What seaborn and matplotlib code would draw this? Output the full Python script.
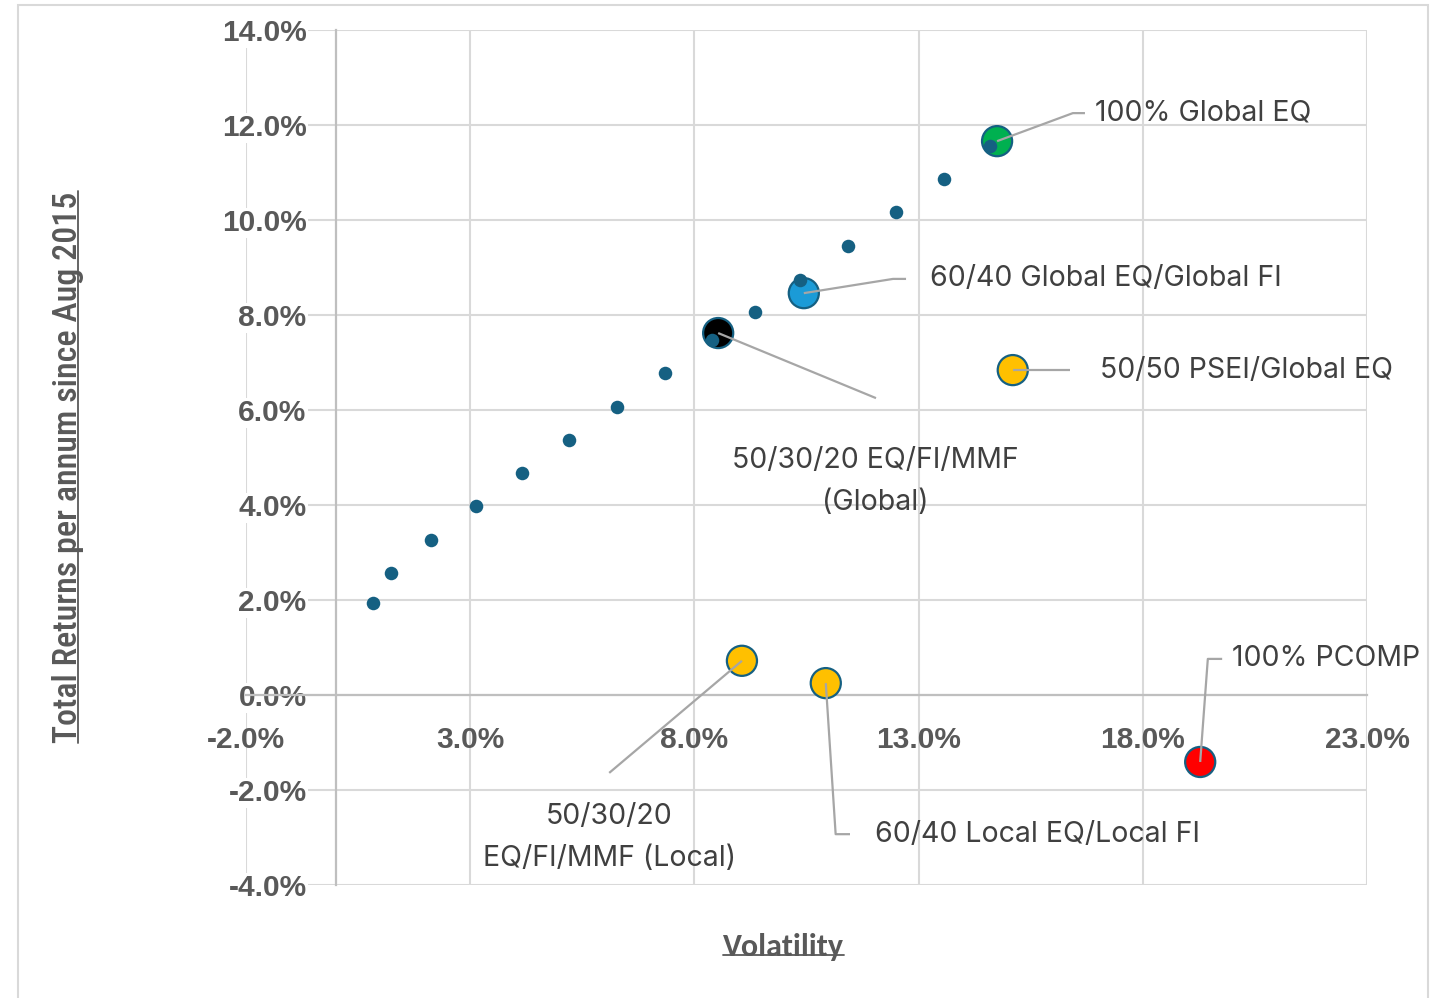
import numpy as np
import pandas as pd
import matplotlib
matplotlib.use("Agg")
import matplotlib.pyplot as plt
import seaborn as sns
from matplotlib.lines import Line2D
from matplotlib.patches import Rectangle

# efficient frontier of global EQ/FI mixes (volatility %, return % p.a.)
frontier_vol = [0.83, 1.23, 2.13, 3.13, 4.16, 5.20, 6.27, 7.34, 8.39, 9.35, 10.36, 11.43, 12.50, 13.57, 14.59]
frontier_ret = [1.94, 2.57, 3.26, 3.98, 4.67, 5.37, 6.06, 6.78, 7.47, 8.06, 8.74, 9.45, 10.17, 10.86, 11.56]

# highlighted portfolios
portfolio_names = [
    "100% Global EQ",
    "60/40 Global EQ/Global FI",
    "50/30/20 EQ/FI/MMF\n(Global)",
    "50/50 PSEI/Global EQ",
    "50/30/20\nEQ/FI/MMF (Local)",
    "60/40 Local EQ/Local FI",
    "100% PCOMP",
]
portfolio_vol = [14.75, 10.44, 8.53, 15.10, 9.06, 10.93, 19.28]
portfolio_ret = [11.66, 8.46, 7.62, 6.84, 0.72, 0.25, -1.41]
portfolio_colors = ["#00B050", "#1B9BD7", "#000000", "#FFC000", "#FFC000", "#FFC000", "#FF0000"]

x_ticks = [-2, 3, 8, 13, 18, 23]
y_ticks = [-4, -2, 0, 2, 4, 6, 8, 10, 12, 14]

# label placement (leader line points after the marker, text anchor, alignment)
label_path = [
    [(16.44, 12.25), (16.71, 12.25)],
    [(12.43, 8.76), (12.72, 8.76)],
    [(12.05, 6.25)],
    [(16.38, 6.84)],
    [(6.10, -1.64)],
    [(11.15, -2.93), (11.47, -2.93)],
    [(19.45, 0.76), (19.77, 0.76)],
]
label_xy = [(16.93, 12.25), (13.25, 8.76), (12.03, 5.22), (17.05, 6.84),
            (6.10, -2.27), (12.03, -2.93), (19.99, 0.76)]
label_align = [("left", "center"), ("left", "center"), ("center", "top"), ("left", "center"),
               ("center", "top"), ("left", "center"), ("left", "center")]

dark_blue = "#156082"
grid_col = "#D9D9D9"
tick_col = "#595959"
text_col = "#404040"
leader_col = "#A6A6A6"

sns.set_style("white")
plt.rcParams["font.family"] = ["Liberation Sans", "DejaVu Sans"]

fig = plt.figure(figsize=(14.31, 9.98), dpi=100)
ax = fig.add_axes([246 / 1431, 113 / 998, 1121 / 1431, 855 / 998])

frontier_df = pd.DataFrame({"vol": frontier_vol, "ret": frontier_ret})
port_df = pd.DataFrame({"vol": portfolio_vol, "ret": portfolio_ret, "name": portfolio_names})

sns.scatterplot(
    data=port_df, x="vol", y="ret", hue="name",
    palette=dict(zip(portfolio_names, portfolio_colors)),
    s=470, edgecolor=dark_blue, linewidth=1.6, legend=False, ax=ax, zorder=3,
)
sns.scatterplot(
    data=frontier_df, x="vol", y="ret", color=dark_blue,
    s=95, edgecolor=dark_blue, linewidth=0, legend=False, ax=ax, zorder=4,
)

# leader lines + labels
for i, name in enumerate(portfolio_names):
    xs = [portfolio_vol[i]] + [p[0] for p in label_path[i]]
    ys = [portfolio_ret[i]] + [p[1] for p in label_path[i]]
    ax.plot(xs, ys, color=leader_col, lw=1.6, zorder=5, solid_capstyle="butt")
    ha, va = label_align[i]
    ax.text(label_xy[i][0], label_xy[i][1], name, ha=ha, va=va, fontsize=20.5,
            color=text_col, family=["Inter", "DejaVu Sans"], linespacing=1.72,
            multialignment="center", zorder=6)

ax.set_xlim(-2, 23)
ax.set_ylim(-4, 14)
ax.set_xticks(x_ticks)
ax.set_yticks(y_ticks)
ax.set_xticklabels([f"{v:.1f}%" for v in x_ticks])
ax.set_yticklabels([f"{v:.1f}%" for v in y_ticks])
ax.grid(True, color=grid_col, lw=1.5)
ax.set_axisbelow(True)

for side in ["top", "right"]:
    ax.spines[side].set_visible(False)
ax.spines["left"].set_position(("data", 0))
ax.spines["bottom"].set_position(("data", 0))
for side in ["left", "bottom"]:
    ax.spines[side].set_color("#BFBFBF")
    ax.spines[side].set_linewidth(1.6)
    ax.spines[side].set_zorder(1)

ax.tick_params(axis="both", length=0, labelsize=21.5, labelcolor=tick_col)
ax.tick_params(axis="y", pad=21)
ax.tick_params(axis="x", pad=22)
for lbl in ax.get_xticklabels() + ax.get_yticklabels():
    lbl.set_fontweight("bold")
for lbl in ax.get_yticklabels():
    lbl.set_bbox(dict(facecolor="white", edgecolor="none", pad=1))
ax.set_xlabel("")
ax.set_ylabel("")

# axis titles (underlined, like the Excel original)
ylab = fig.text(68 / 1431, 1 - 467 / 998, "Total Returns per annum since Aug 2015",
                rotation=90, ha="center", va="center", fontsize=24.5, color=tick_col,
                fontweight=500, family=["Roboto Condensed", "DejaVu Sans"])
xlab = fig.text(783 / 1431, 1 - 947 / 998, "Volatility", ha="center", va="center",
                fontsize=23, color=tick_col, fontweight="bold",
                family=["Carlito", "DejaVu Sans"])

# outer chart border
fig.patches.append(Rectangle((18 / 1431, -0.01), 1410 / 1431, 1.01 - 5 / 998,
                             transform=fig.transFigure, fill=False,
                             edgecolor=grid_col, lw=1.5))

fig.canvas.draw()
r = fig.canvas.get_renderer()
inv = fig.transFigure.inverted()
bb = xlab.get_window_extent(r)
yy = bb.y0 + 0.2 * bb.height
(x0, y0) = inv.transform((bb.x0, yy))
(x1, _) = inv.transform((bb.x1, yy))
fig.add_artist(Line2D([x0, x1], [y0, y0], transform=fig.transFigure, color=tick_col, lw=1.3))
bb = ylab.get_window_extent(r)
xx = bb.x1 - 0.2 * bb.width
(x0, y0) = inv.transform((xx, bb.y0))
(_, y1) = inv.transform((xx, bb.y1))
fig.add_artist(Line2D([x0, x0], [y0, y1], transform=fig.transFigure, color=tick_col, lw=1.3))

fig.savefig("out.png", dpi=100)
